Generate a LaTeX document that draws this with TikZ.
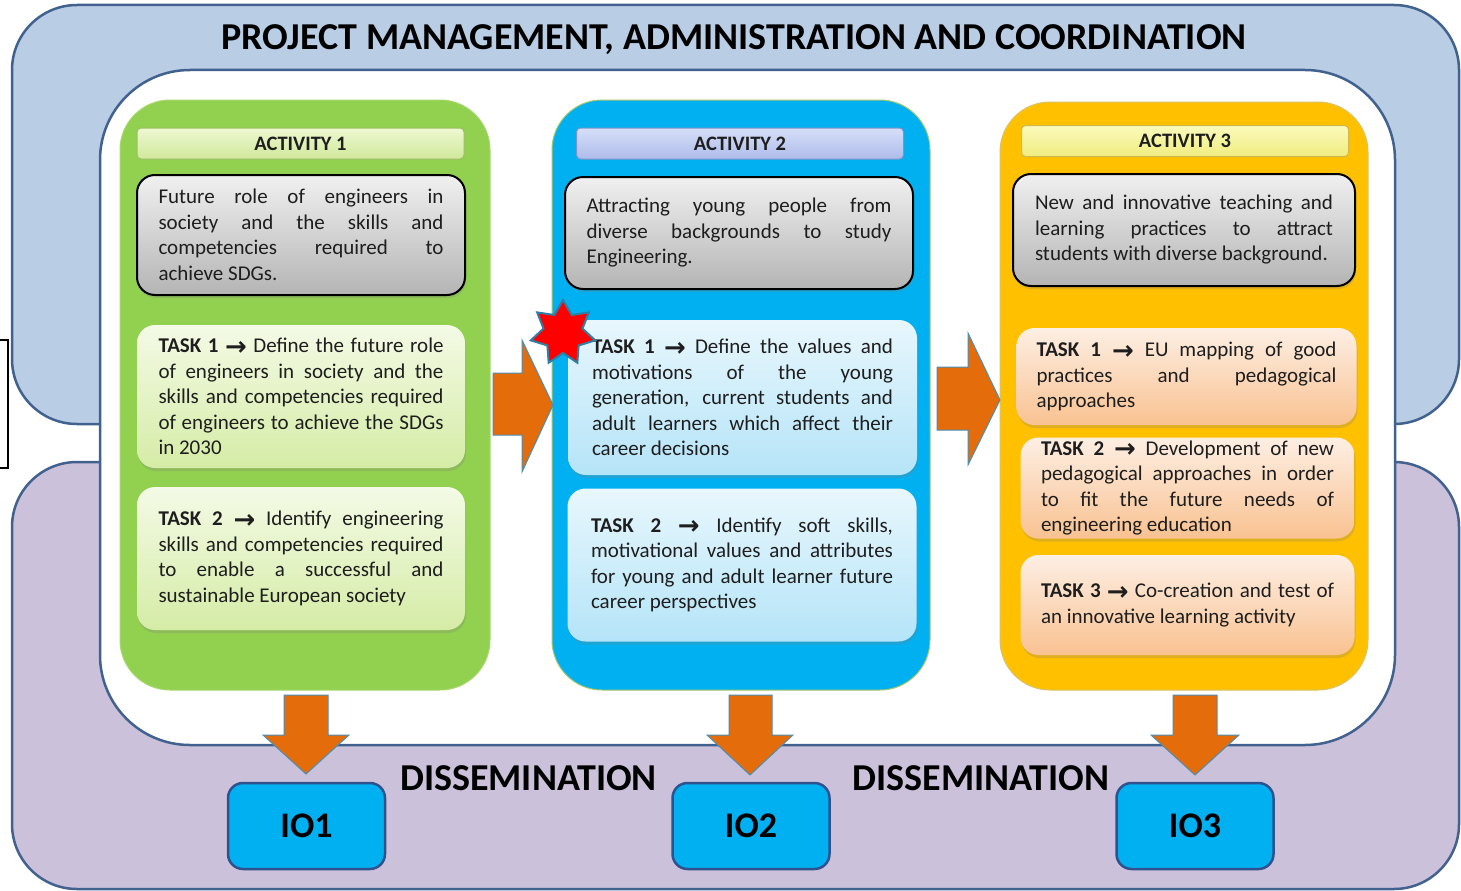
\documentclass[tikz,border=0pt]{standalone}
\usepackage{fontspec}
\setmainfont{Carlito}
\newfontfamily\symf{DejaVu Sans}
\usetikzlibrary{shapes.geometric,shadows}
\tolerance=9999 \hbadness=10000 \hfuzz=30pt
\newcommand\arr{\raisebox{-2.5pt}{\symf\bfseries\fontsize{26}{20}\selectfont →}}
\definecolor{pmblue}{HTML}{B9CDE5}
\definecolor{dissem}{HTML}{CCC1DA}
\definecolor{frame}{HTML}{41628F}
\definecolor{actgreen}{HTML}{92D050}
\definecolor{actblue}{HTML}{00B0F0}
\definecolor{actorange}{HTML}{FFC000}
\definecolor{blockor}{HTML}{E46C0A}
\definecolor{arrline}{HTML}{4A8FB5}
\definecolor{txt}{HTML}{1E1E1E}
\definecolor{starblue}{HTML}{2E7FA6}
\definecolor{iodraw}{HTML}{2F528F}
\definecolor{greenedge}{HTML}{A8D86E}
\definecolor{blueedge}{HTML}{A6C86A}
\definecolor{orangeedge}{HTML}{D8C46A}
\definecolor{tgA}{HTML}{F4FAE6}
\definecolor{tgB}{HTML}{D5ECA6}
\definecolor{tbA}{HTML}{E8F7FD}
\definecolor{tbB}{HTML}{B5E4F8}
\definecolor{toA}{HTML}{FDEFE4}
\definecolor{toB}{HTML}{F9C291}
\definecolor{h1A}{HTML}{EEF8D2}
\definecolor{h1B}{HTML}{D0E89B}
\definecolor{h1D}{HTML}{9DBE62}
\definecolor{h2A}{HTML}{D6DEF8}
\definecolor{h2B}{HTML}{AEBCEA}
\definecolor{h2D}{HTML}{8094CA}
\definecolor{h3A}{HTML}{FBFBBC}
\definecolor{h3B}{HTML}{EFEC80}
\definecolor{h3D}{HTML}{D0B850}
\definecolor{grayA}{HTML}{F0F0F0}
\definecolor{grayB}{HTML}{B4B4B4}
\begin{document}
\begin{tikzpicture}[x=1pt,y=-1pt,
  region/.style={draw=frame, line width=2.5, rounded corners=65},
  panel/.style={rounded corners=50, inner sep=0, line width=1},
  hdr/.style={rounded corners=4, inner sep=0, line width=1, minimum height=31, text=txt,
     font=\bfseries\fontsize{20.5}{22}\selectfont},
  graybox/.style={rounded corners=18, inner sep=0, draw=black, line width=2,
     top color=grayA, bottom color=grayB, text=txt, align=justify,
     font=\fontsize{21}{25.5}\selectfont, drop shadow={shadow xshift=1pt, shadow yshift=-3pt, opacity=0.25}},
  taskbox/.style={rounded corners=18, inner sep=0, text=txt, align=justify,
     font=\fontsize{21}{25.5}\selectfont, drop shadow={shadow xshift=1pt, shadow yshift=-3pt, opacity=0.25}},
  tgreen/.style={taskbox, top color=tgA, bottom color=tgB},
  tblue/.style={taskbox, top color=tbA, bottom color=tbB},
  torange/.style={taskbox, top color=toA, bottom color=toB},
  blockarrow/.style={fill=blockor, draw=arrline, line width=1},
  iobox/.style={rounded corners=15, fill=actblue, draw=iodraw, line width=2.5, inner sep=0,
     minimum width=157, minimum height=86, font=\bfseries\fontsize{36}{40}\selectfont, text=black},
  bigtext/.style={font=\bfseries\fontsize{38}{42}\selectfont, text=black, inner sep=0, anchor=base}
]
\useasboundingbox (0,0) rectangle (1461,891);
\clip (0,0) rectangle (1461,891);
\fill[white] (0,0) rectangle (1461,891);
% background regions
\draw[region, fill=pmblue] (12,5) rectangle (1459,424);
\draw[region, fill=dissem] (12,462) rectangle (1459,889);
\draw[draw=frame, line width=2.5, fill=white, rounded corners=90] (100,70) rectangle (1395,745);
\draw[black, line width=1.3] (0,340) -- (8,340) -- (8,468) -- (0,468);
% title
\node[bigtext] (title) at (734,50) {PROJECT MANAGEMENT, ADMINISTRATION AND COORDINATION};
% panels
\node[panel, fill=actgreen, draw=greenedge, minimum width=370, minimum height=590] (act1) at (305,395) {};
\node[panel, fill=actblue, draw=blueedge, minimum width=378, minimum height=590] (act2) at (741,395) {};
\node[panel, fill=actorange, draw=orangeedge, minimum width=368, minimum height=588] (act3) at (1184,396) {};
% headers
\node[hdr, top color=h1A, bottom color=h1B, draw=h1D, minimum width=327] (h1) at (300.5,143.5) {ACTIVITY 1};
\node[hdr, top color=h2A, bottom color=h2B, draw=h2D, minimum width=327] (h2) at (740,143.5) {ACTIVITY 2};
\node[hdr, top color=h3A, bottom color=h3B, draw=h3D, minimum width=327] (h3) at (1185,141) {ACTIVITY 3};
% gray description boxes
\node[graybox, minimum width=328, minimum height=120, text width=285] (g1) at (301,235)
  {Future role of engineers in\linebreak society and the skills and\linebreak competencies required to\linebreak achieve SDGs.};
\node[graybox, minimum width=348, minimum height=112, text width=305] (g2) at (739,233)
  {Attracting young people from\linebreak diverse backgrounds to study\linebreak Engineering.};
\node[graybox, minimum width=342, minimum height=112, text width=298] (g3) at (1184,230)
  {New and innovative teaching and\linebreak learning practices to attract\linebreak students with diverse background.};
% tasks activity 1
\node[tgreen, minimum width=328, minimum height=143, text width=285] (a1t1) at (301,396.5)
  {\textbf{TASK 1} \arr{} Define the future role\linebreak of engineers in society and the\linebreak skills and competencies required\linebreak of engineers to achieve the SDGs\linebreak in 2030};
\node[tgreen, minimum width=328, minimum height=143, text width=285] (a1t2) at (301,558.5)
  {\textbf{TASK 2} \arr{} Identify engineering\linebreak skills and competencies required\linebreak to enable a successful and\linebreak sustainable European society};
% tasks activity 2
\node[tblue, minimum width=349, minimum height=155, text width=301] (a2t1) at (742.5,397.5)
  {\textbf{TASK 1} \arr{} Define the values and\linebreak motivations of the young\linebreak generation, current students and\linebreak adult learners which affect their\linebreak career decisions};
\node[tblue, minimum width=349, minimum height=153, text width=302] (a2t2) at (742,565)
  {\textbf{TASK 2} \arr{} Identify soft skills,\linebreak motivational values and attributes\linebreak for young and adult learner future\linebreak career perspectives};
% tasks activity 3
\node[torange, minimum width=340, minimum height=97, text width=300] (a3t1) at (1186.5,376.5)
  {\textbf{TASK 1} \arr{} EU mapping of good\linebreak practices and pedagogical\linebreak approaches};
\node[torange, minimum width=334, minimum height=101, text width=293] (a3t2) at (1187.5,488)
  {\textbf{TASK 2} \arr{} Development of new\linebreak pedagogical approaches in order\linebreak to fit the future needs of\linebreak engineering education};
\node[torange, minimum width=334, minimum height=100, text width=293] (a3t3) at (1187.5,605)
  {\textbf{TASK 3} \arr{} Co-creation and test of\linebreak an innovative learning activity};
% horizontal block arrows
\draw[blockarrow] (493,373) -- (522,373) -- (522,340) -- (553,405) -- (522,472) -- (522,435) -- (493,435) -- cycle;
\draw[blockarrow] (937,367) -- (968,367) -- (968,333) -- (1000,400) -- (968,465) -- (968,430) -- (937,430) -- cycle;
% outputs
\node[iobox] (io1) at (306.5,826) {IO1};
\node[iobox] (io2) at (751,826) {IO2};
\node[iobox] (io3) at (1195,826) {IO3};
% down block arrows
\draw[blockarrow] (284,695) -- (328,695) -- (328,735) -- (349,735) -- (306,774) -- (263,735) -- (284,735) -- cycle;
\draw[blockarrow] (729,695) -- (772,695) -- (772,735) -- (793,735) -- (750,775) -- (707,735) -- (729,735) -- cycle;
\draw[blockarrow] (1173,695) -- (1217,695) -- (1217,735) -- (1239,735) -- (1195,775) -- (1151,735) -- (1173,735) -- cycle;
% dissemination labels
\node[bigtext] (d1) at (528.5,790) {DISSEMINATION};
\node[bigtext] (d2) at (981,790) {DISSEMINATION};
% star
\node[star, star points=7, star point ratio=1.65, fill=red, draw=starblue, line width=2, minimum size=66, inner sep=0] (star) at (563,333) {};
\end{tikzpicture}
\end{document}
